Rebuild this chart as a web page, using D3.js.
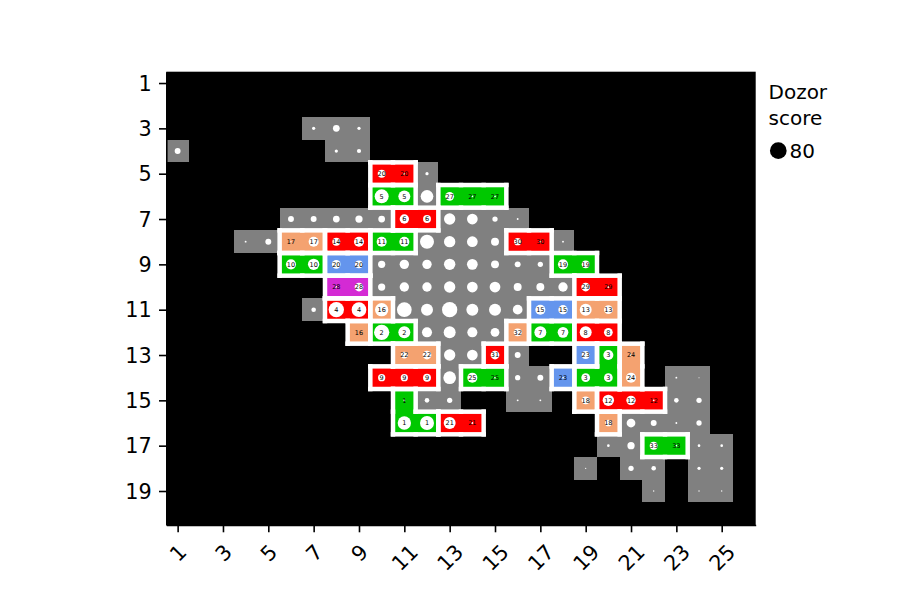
<!DOCTYPE html>
<html><head><meta charset="utf-8">
<script src="https://cdn.jsdelivr.net/npm/d3@7"></script>
<style>body{margin:0;background:#fff} text{font-family:"DejaVu Sans",sans-serif}</style>
</head><body>
<svg id="c" width="900" height="600"></svg>
<script>
// ---------- data ----------
const nCols = 26, nRows = 20;
const xTicks = [1,3,5,7,9,11,13,15,17,19,21,23,25];
const yTicks = [1,3,5,7,9,11,13,15,17,19];
const legendTitle = ["Dozor", "score"];
const legendScore = 80;

// scanned cells: [column, row, dozor score]
const scanCells = [
 [7,3,3],[8,3,13],[9,3,3],
 [1,4,10],[8,4,3],[9,4,5],
 [10,5,18],[11,5,1],[12,5,3],
 [10,6,56],[11,6,41],[12,6,46],[13,6,22],[14,6,1],[15,6,1],
 [6,7,10],[7,7,10],[8,7,13],[9,7,15],[10,7,13],[11,7,25],[12,7,18],[13,7,37],[14,7,33],[15,7,8],[16,7,1],
 [4,8,1],[5,8,10],[6,8,0.5],[7,8,29],[8,8,18],[9,8,29],[10,8,29],[11,8,29],[12,8,56],[13,8,37],[14,8,33],[15,8,18],[16,8,15],[17,8,1],[18,8,1],
 [6,9,29],[7,9,37],[8,9,22],[9,9,18],[10,9,15],[11,9,25],[12,9,25],[13,9,37],[14,9,33],[15,9,18],[16,9,10],[17,9,8],[18,9,29],[19,9,18],
 [8,10,1],[9,10,22],[10,10,15],[11,10,25],[12,10,25],[13,10,37],[14,10,33],[15,10,33],[16,10,18],[17,10,18],[18,10,25],[19,10,22],[20,10,1],
 [7,11,6],[8,11,67],[9,11,62],[10,11,51],[11,11,62],[12,11,41],[13,11,67],[14,11,41],[15,11,41],[16,11,27],[17,11,29],[18,11,25],[19,11,41],[20,11,22],
 [9,12,0],[10,12,67],[11,12,41],[12,12,29],[13,12,41],[14,12,29],[15,12,22],[16,12,18],[17,12,41],[18,12,33],[19,12,41],[20,12,22],
 [11,13,13],[12,13,22],[13,13,37],[14,13,33],[15,13,22],[16,13,10],[19,13,18],[20,13,29],[21,13,1],
 [10,14,15],[11,14,15],[12,14,18],[13,14,46],[14,14,29],[15,14,1],[16,14,8],[17,14,10],[18,14,1],[19,14,22],[20,14,22],[21,14,29],[23,14,1],[24,14,0.3],
 [11,15,1],[12,15,6],[13,15,8],[16,15,1],[17,15,1],[19,15,18],[20,15,37],[21,15,25],[22,15,1],[23,15,6],[24,15,8],
 [11,16,51],[12,16,56],[13,16,41],[14,16,1],[20,16,13],[21,16,22],[22,16,10],[23,16,1],[24,16,8],
 [20,17,2],[21,17,15],[22,17,18],[23,17,1],[24,17,2],[25,17,2],
 [19,18,0.5],[21,18,8],[22,18,6],[24,18,3],[25,18,3],
 [22,19,0.5],[24,19,0.5],[25,19,0.5]
];

// groups: label, colour, member cells [column,row]
const groupLabels = [20,5,27,6,17,14,11,30,10,20,19,28,29,4,16,15,13,16,2,32,7,8,22,31,23,3,24,9,25,23,1,21,18,12,18,33];
const groupColors = ["red","green","green","red","orange","red","green","red","green","blue","green","magenta","red","red","orange","blue","orange","orange","green","orange","green","red","orange","red","blue","green","orange","red","green","blue","green","red","orange","red","orange","green"];
const groupCells = [
 [[10,5],[11,5]], [[10,6],[11,6]], [[13,6],[14,6],[15,6]], [[11,7],[12,7]],
 [[6,8],[7,8]], [[8,8],[9,8]], [[10,8],[11,8]], [[16,8],[17,8]],
 [[6,9],[7,9]], [[8,9],[9,9]], [[18,9],[19,9]],
 [[8,10],[9,10]], [[19,10],[20,10]],
 [[8,11],[9,11]], [[10,11]], [[17,11],[18,11]], [[19,11],[20,11]],
 [[9,12]], [[10,12],[11,12]], [[16,12]], [[17,12],[18,12]], [[19,12],[20,12]],
 [[11,13],[12,13]], [[15,13]], [[19,13]], [[20,13],[19,14],[20,14]], [[21,13],[21,14]],
 [[10,14],[11,14],[12,14]], [[14,14],[15,14]], [[18,14]],
 [[11,15],[11,16],[12,16]], [[13,16],[14,16]],
 [[19,15]], [[20,15],[21,15],[22,15]], [[20,16]],
 [[22,17],[23,17]]
];
const palette = {red:"#ff0000", green:"#00c800", orange:"#f4a270", blue:"#6495ed", magenta:"#d42ad4"};

// ---------- drawing ----------
const svg = d3.select("#c");
const x = d3.scaleLinear().domain([0.5, nCols + 0.5]).range([166.3, 755.7]);
const y = d3.scaleLinear().domain([0.5, nRows + 0.5]).range([71.7, 525]);
const rS = d3.scaleSqrt().domain([0, 80]).range([0, 8.35]);
const cw = x(1) - x(0), ch = y(1) - y(0);

svg.append("rect").attr("x", x(0.5)).attr("y", y(0.5))
  .attr("width", x(nCols + 0.5) - x(0.5)).attr("height", y(nRows + 0.5) - y(0.5)).attr("fill", "#000");

svg.append("g").selectAll("rect").data(scanCells).join("rect")
  .attr("x", d => x(d[0] - 0.5)).attr("y", d => y(d[1] - 0.5))
  .attr("width", cw).attr("height", ch).attr("fill", "#808080")
  .attr("shape-rendering", "crispEdges");

const groups = groupLabels.map((l, i) => ({label: l, color: palette[groupColors[i]], cells: groupCells[i]}));

const gFill = svg.append("g");
groups.forEach(g => {
  gFill.selectAll(null).data(g.cells).join("rect")
    .attr("x", d => x(d[0] - 0.5)).attr("y", d => y(d[1] - 0.5))
    .attr("width", cw).attr("height", ch).attr("fill", g.color)
    .attr("shape-rendering", "crispEdges");
});

const edges = [];
groups.forEach(g => {
  const has = (c, r) => g.cells.some(k => k[0] === c && k[1] === r);
  g.cells.forEach(([c, r]) => {
    if (!has(c, r - 1)) edges.push([c - 0.5, r - 0.5, c + 0.5, r - 0.5]);
    if (!has(c, r + 1)) edges.push([c - 0.5, r + 0.5, c + 0.5, r + 0.5]);
    if (!has(c - 1, r)) edges.push([c - 0.5, r - 0.5, c - 0.5, r + 0.5]);
    if (!has(c + 1, r)) edges.push([c + 0.5, r - 0.5, c + 0.5, r + 0.5]);
  });
});
svg.append("g").selectAll("line").data(edges).join("line")
  .attr("x1", d => x(d[0])).attr("y1", d => y(d[1]))
  .attr("x2", d => x(d[2])).attr("y2", d => y(d[3]))
  .attr("stroke", "#fff").attr("stroke-width", 4.5).attr("stroke-linecap", "square");

svg.append("g").selectAll("circle").data(scanCells.filter(d => d[2] > 0)).join("circle")
  .attr("cx", d => x(d[0])).attr("cy", d => y(d[1])).attr("r", d => rS(d[2]))
  .attr("fill", "#fff");

const labG = svg.append("g");
groups.forEach(g => {
  labG.selectAll(null).data(g.cells).join("text")
    .attr("x", d => x(d[0])).attr("y", d => y(d[1])).attr("dy", "0.36em")
    .attr("text-anchor", "middle").attr("font-size", "6.5px").attr("fill", "#000")
    .text(g.label);
});

// axes
const fs = 20.8;
const xAx = svg.append("g").attr("transform", `translate(0,${y(nRows + 0.5)})`)
  .call(d3.axisBottom(x).tickValues(xTicks).tickSize(7.3).tickSizeOuter(0).tickFormat(d3.format("d")));
const yAx = svg.append("g").attr("transform", `translate(${x(0.5)},0)`)
  .call(d3.axisLeft(y).tickValues(yTicks).tickSize(7.3).tickSizeOuter(0).tickFormat(d3.format("d")));
[xAx, yAx].forEach(a => {
  a.select(".domain").attr("stroke", "#000").attr("stroke-width", 1.6);
  a.selectAll(".tick line").attr("stroke", "#000").attr("stroke-width", 1.6);
  a.selectAll(".tick text").attr("font-size", fs + "px").attr("fill", "#000").attr("font-family", "DejaVu Sans");
});
yAx.selectAll(".tick text").attr("x", -14.6).attr("dy", "0.35em");
xAx.selectAll(".tick text").each(function() {
  const t = d3.select(this);
  const w = this.getComputedTextLength();
  const h = fs * 1.164;
  const s = (w + h) / Math.SQRT2;
  const cy = 14.6 + s / 2;
  t.attr("y", 0).attr("dy", "0.35em").attr("text-anchor", "middle")
   .attr("transform", `translate(0,${cy}) rotate(-45)`);
});

// legend
const lg = svg.append("g");
lg.selectAll("text.t").data(legendTitle).join("text").attr("class", "t")
  .attr("x", 768.5).attr("y", (d, i) => 99 + i * 25.5).attr("font-size", "20px").attr("fill", "#000").text(d => d);
lg.append("circle").attr("cx", 778.3).attr("cy", 150.7).attr("r", rS(legendScore)).attr("fill", "#000");
lg.append("text").attr("x", 789.5).attr("y", 157.5).attr("font-size", "20px").attr("fill", "#000").text(legendScore);
</script>
</body></html>
